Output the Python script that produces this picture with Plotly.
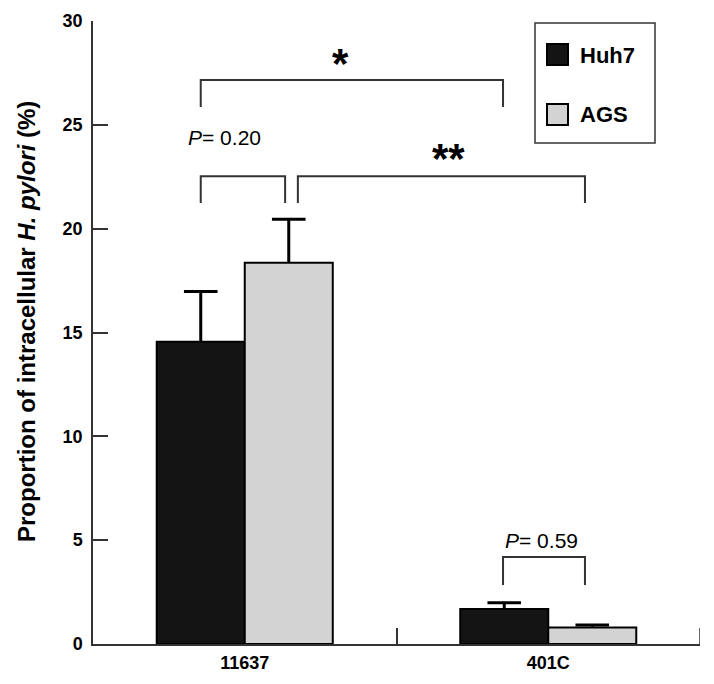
import plotly.graph_objects as go

# ---- data ----
categories = ["11637", "401C"]
series_names = ["Huh7", "AGS"]
huh7_values = [14.56, 1.68]
huh7_errors = [2.42, 0.31]
ags_values = [18.36, 0.79]
ags_errors = [2.09, 0.12]
y_ticks = [0, 5, 10, 15, 20, 25, 30]

# significance brackets: (x_left, x_right, y_bottom, y_top) in axis units
bracket_x0 = [-0.145, -0.145, 0.175, 0.851]
bracket_x1 = [0.851, 0.133, 1.121, 1.121]
bracket_yb = [25.86, 21.23, 21.23, 2.84]
bracket_yt = [27.16, 22.53, 22.53, 4.19]
label_text = ["<b>*</b>", "<i>P</i>= 0.20", "<b>**</b>", "<i>P</i>= 0.59"]
label_x = [0.317, -0.068, 0.67, 0.978]
label_y = [28.2, 24.4, 23.6, 5.0]

W, H = 714, 684
OFF = 8  # page body margin
L, R, T, B = 93 - OFF, 22, 21 - OFF, 48
FONT = "Liberation Sans, Arial, Helvetica, sans-serif"
AX = "#333333"
BARGAP = 0.42
bar_w = (1 - BARGAP) / 2
offsets = [-bar_w / 2, bar_w / 2]

fig = go.Figure()
for name, vals, errs, col, off in zip(series_names, [huh7_values, ags_values],
                                      [huh7_errors, ags_errors], ["#141414", "#d3d3d3"], offsets):
    fig.add_trace(go.Bar(
        x=categories, y=vals, name=name,
        marker=dict(color=col, line=dict(color="black", width=2)),
        error_y=dict(type="data", array=errs, arrayminus=[0] * len(errs), symmetric=False,
                     color="black", thickness=3, width=0),
        showlegend=False))
    # error-bar caps (top only)
    fig.add_trace(go.Scatter(
        x=[i + off for i in range(len(categories))],
        y=[v + e for v, e in zip(vals, errs)],
        xaxis="x2", yaxis="y", mode="markers", showlegend=False, hoverinfo="skip",
        marker=dict(symbol="line-ew", size=24, line=dict(color="black", width=3))))

shapes = []
for x0, x1, yb, yt in zip(bracket_x0, bracket_x1, bracket_yb, bracket_yt):
    shapes.append(dict(type="path", xref="x", yref="y",
                       path=f"M {x0},{yb} L {x0},{yt} L {x1},{yt} L {x1},{yb}",
                       line=dict(color=AX, width=2)))

# right-end boundary tick of the x axis
shapes.append(dict(type="line", xref="x", yref="y", x0=1.5, x1=1.5, y0=0, y1=0.77,
                   line=dict(color=AX, width=1.5)))

annotations = []
for t, x, y in zip(label_text, label_x, label_y):
    big = "*" in t
    annotations.append(dict(x=x, y=y, xref="x", yref="y", text=t, showarrow=False,
                            font=dict(family=FONT, size=42 if big else 21, color="black"),
                            yshift=-5 if big else 0))

# pixel (window coords) -> paper helpers
pw, ph = W - L - R, H - T - B
def px(x):
    return (x - OFF - L) / pw
def py(y):
    return (H - B - (y - OFF)) / ph

# custom legend
shapes.append(dict(type="rect", xref="paper", yref="paper",
                   x0=px(535), x1=px(655), y0=py(143), y1=py(23),
                   line=dict(color=AX, width=1.5), fillcolor="white"))
leg_colors = ["#141414", "#d3d3d3"]
leg_tops = [44, 104]
for name, c, top in zip(series_names, leg_colors, leg_tops):
    shapes.append(dict(type="rect", xref="paper", yref="paper",
                       x0=px(547), x1=px(568), y0=py(top + 21), y1=py(top),
                       line=dict(color="black", width=2), fillcolor=c))
    annotations.append(dict(x=px(578), y=py(top + 11), xref="paper", yref="paper",
                            xanchor="left", yanchor="middle", text=f"<b>{name}</b>",
                            showarrow=False, font=dict(family=FONT, size=22, color="black")))

# y-axis title
annotations.append(dict(x=px(26), y=py(322), xref="paper", yref="paper", textangle=-90,
                        xanchor="center", yanchor="middle", showarrow=False,
                        text="<b>Proportion of intracellular <i>H. pylori</i> (%)</b>",
                        font=dict(family=FONT, size=24, color="black")))

fig.update_layout(
    width=W, height=H,
    margin=dict(l=L, r=R, t=T, b=B, autoexpand=False),
    plot_bgcolor="white", paper_bgcolor="white",
    barmode="group", bargap=BARGAP, bargroupgap=0,
    shapes=shapes, annotations=annotations,
    font=dict(family=FONT, color="black"),
    xaxis=dict(type="category", range=[-0.5, 1.5], showline=True, linecolor=AX, linewidth=1.5,
               ticks="inside", tickson="boundaries", ticklen=16, tickcolor=AX, tickwidth=1.5,
               tickvals=categories, ticktext=[f"<b>{c}</b>" for c in categories],
               ticklabelstandoff=2,
               tickfont=dict(family=FONT, size=18, color="black"), showgrid=False, zeroline=False),
    xaxis2=dict(overlaying="x", range=[-0.5, 1.5], anchor="y", visible=False),
    yaxis=dict(range=[0, 30], tickvals=y_ticks, ticktext=[f"<b>{v}</b>" for v in y_ticks],
               showline=True, linecolor=AX, linewidth=1.5, ticks="inside", ticklen=15,
               tickcolor=AX, tickwidth=1.5, showgrid=False, zeroline=False,
               ticklabelstandoff=5,
               tickfont=dict(family=FONT, size=18, color="black"), automargin=False),
)

fig.write_html("out.html")
